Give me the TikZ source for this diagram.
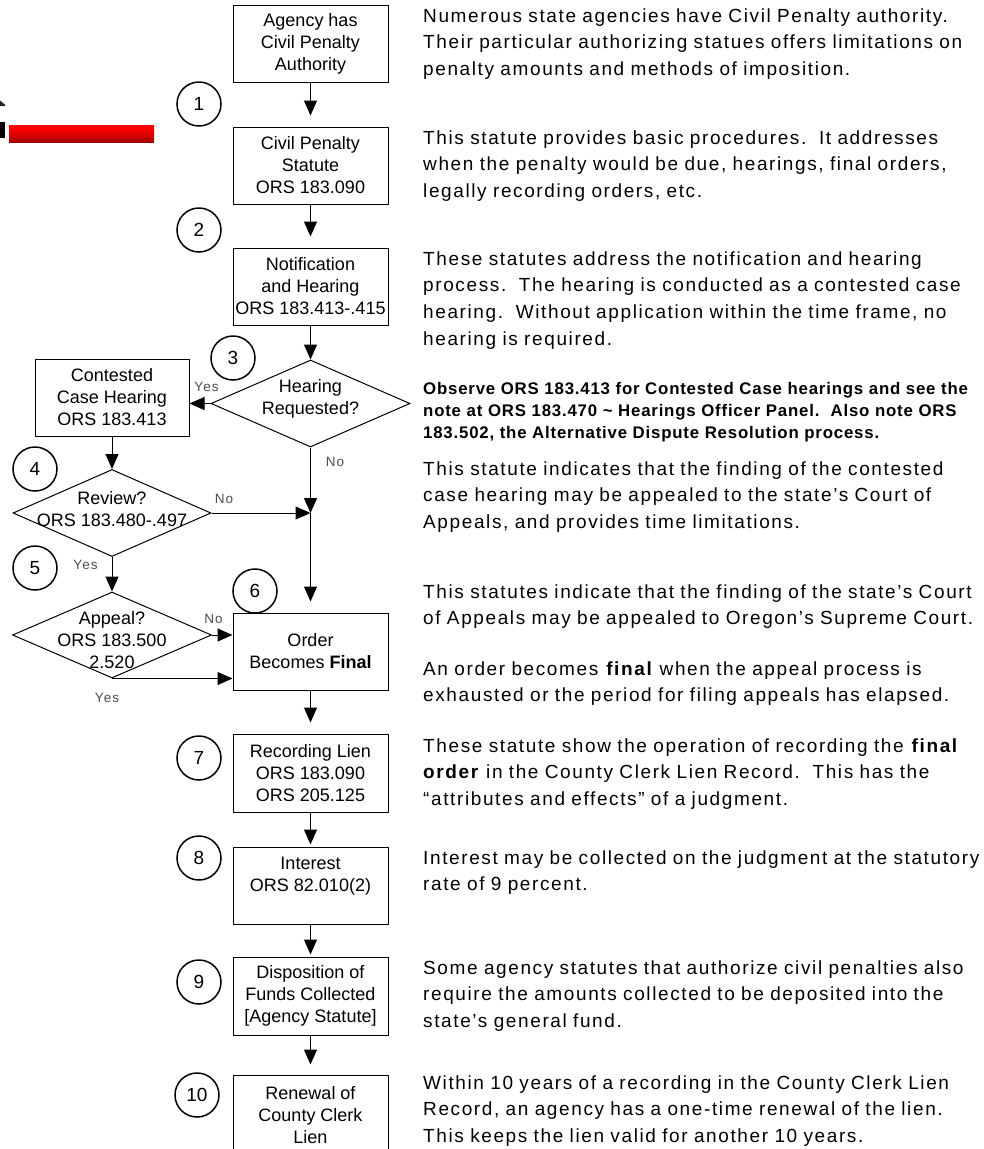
\documentclass[tikz,border=0pt]{standalone}
\usepackage{fontspec}
\setmainfont{Liberation Sans}
\newfontfamily\bodyf{Liberation Sans}[LetterSpace=8.5]
\newfontfamily\boldf{Liberation Sans Bold}[LetterSpace=4.8]
\newfontfamily\labf{Liberation Sans}[LetterSpace=8]
\usetikzlibrary{arrows.meta,shapes.geometric,calc}
\pgfdeclareverticalshading{redbar}{100bp}{color(0bp)=(red!30!black); color(35bp)=(red!75!black); color(65bp)=(red); color(92bp)=(red); color(100bp)=(red!65!black)}
\begin{document}
\begin{tikzpicture}[x=1pt,y=-1pt,
  box/.style={draw, line width=1pt, minimum width=155pt, minimum height=77pt, inner sep=0pt, align=center, font=\fontsize{18}{22}\selectfont},
  dia/.style={draw, diamond, line width=1pt, inner sep=0pt},
  dtxt/.style={align=center, inner sep=0pt, font=\fontsize{18}{22}\selectfont},
  num/.style={draw, circle, line width=1.5pt, minimum size=44pt, inner sep=0pt, font=\fontsize{19}{19}\selectfont},
  para/.style={anchor=base west, inner sep=0pt, text width=600pt, align=left, font=\bodyf\fontsize{19}{26.8}\selectfont},
  bpara/.style={anchor=base west, inner sep=0pt, text width=600pt, align=left, font=\boldf\fontsize{16.8}{22.4}\selectfont},
  lab/.style={inner sep=0pt, text=black!70, font=\labf\fontsize{13.5}{13.5}\selectfont},
  arr/.style={-{Triangle[length=15pt,width=13pt]}, line width=1pt},
]
\useasboundingbox (0,0) rectangle (983,1149);
\clip (0,0) rectangle (983,1149);

% left decoration
\shade[shading=redbar] (9,125) rectangle (154,142);
\fill[black] (0,122) rectangle (5,138);
\fill[black!85] (0,100.5) -- (5,104.5) -- (5,106) -- (0,106) -- cycle;

% boxes
\node[box] (b1) at (310.5,44) {Agency has\\Civil Penalty\\Authority};
\node[box] (b2) at (310.5,165.5) {Civil Penalty\\Statute\\ORS 183.090};
\node[box] (b3) at (310.5,286.5) {Notification\\and Hearing\\ORS 183.413-.415};
\node[dia, minimum width=199pt, minimum height=87pt] (d3) at (310.5,403.5) {};
\node[dtxt] (d3t) at (310.5,399) {Hearing\\Requested?};
\node[box, minimum width=154pt] (cc) at (112,397.5) {Contested\\Case Hearing\\ORS 183.413};
\node[dia, minimum width=198pt, minimum height=87pt] (d4) at (112,513) {};
\node[dtxt] (d4t) at (112,509) {Review?\\ORS 183.480-.497};
\node[dia, minimum width=199pt, minimum height=86pt] (d5) at (112,635) {};
\node[dtxt] (d5t) at (112,640) {Appeal?\\ORS 183.500\\2.520};
\coordinate (j) at (310.5,513);
\node[box] (b6) at (310.5,651.5) {Order\\Becomes \textbf{Final}};
\node[box, minimum height=78pt] (b7) at (310.5,773) {Recording Lien\\ORS 183.090\\ORS 205.125};
\node[box] (b8) at (310.5,885.5) {Interest\\ORS 82.010(2)\\~};
\node[box, minimum height=78pt] (b9) at (310.5,996) {Disposition of\\Funds Collected\\{[}Agency Statute{]}};
\node[box, minimum height=80pt] (b10) at (310.5,1115) {Renewal of\\County Clerk\\Lien};

% numbered circles
\node[num] (n1) at (199,104) {1};
\node[num] (n2) at (199,230) {2};
\node[num] (n3) at (233,358) {3};
\node[num] (n4) at (35,469) {4};
\node[num] (n5) at (35,568) {5};
\node[num] (n6) at (255,591) {6};
\node[num] (n7) at (199,758) {7};
\node[num] (n8) at (199,858) {8};
\node[num] (n9) at (199,982) {9};
\node[num] (n10) at (197,1095) {10};

% connectors
\draw[arr, shorten >=11pt] (b1) -- (b2);
\draw[arr, shorten >=11pt] (b2) -- (b3);
\draw[arr] (b3) -- (d3);
\draw[arr] (d3.west) -- (d3.west -| cc.east);
\draw[arr] (d3.south) -- (j);
\draw[arr] (d4.east) -- (j);
\draw[arr, shorten >=11pt] (j) -- (b6.north);
\draw[arr] (cc) -- (d4);
\draw[arr] (d4) -- (d5);
\draw[arr] (d5.east) -- (d5.east -| b6.west);
\draw[arr] (d5.south) -- (d5.south -| b6.west);
\draw[arr, shorten >=11pt] (b6) -- (b7);
\draw[arr, shorten >=2pt] (b7) -- (b8);
\draw[arr, shorten >=2pt] (b8) -- (b9);
\draw[arr, shorten >=10pt] (b9) -- (b10);

% branch labels
\node[lab] (l1) at (206.5,387) {Yes};
\node[lab] (l2) at (335,462) {No};
\node[lab] (l3) at (224,499) {No};
\node[lab] (l4) at (85.5,564.5) {Yes};
\node[lab] (l5) at (213.5,619) {No};
\node[lab] (l6) at (107,697.5) {Yes};

% explanatory text
\node[para] (p1) at (423,22) {Numerous state agencies have Civil Penalty authority.\\Their particular authorizing statues offers limitations on\\penalty amounts and methods of imposition.};
\node[para] (p2) at (423,144) {This statute provides basic procedures.\ \ It addresses\\when the penalty would be due, hearings, final orders,\\legally recording orders, etc.};
\node[para] (p3) at (423,265) {These statutes address the notification and hearing\\process.\ \ The hearing is conducted as a contested case\\hearing.\ \ Without application within the time frame, no\\hearing is required.};
\node[bpara] (p4) at (423,394) {Observe ORS 183.413 for Contested Case hearings and see the\\note at ORS 183.470 \textasciitilde{} Hearings Officer Panel.\ \ Also note ORS\\183.502, the Alternative Dispute Resolution process.};
\node[para] (p5) at (423,475) {This statute indicates that the finding of the contested\\case hearing may be appealed to the state’s Court of\\Appeals, and provides time limitations.};
\node[para] (p6) at (423,598) {This statutes indicate that the finding of the state’s Court\\of Appeals may be appealed to Oregon’s Supreme Court.};
\node[para] (p7) at (423,675) {An order becomes \textbf{final} when the appeal process is\\exhausted or the period for filing appeals has elapsed.};
\node[para] (p8) at (423,752) {These statute show the operation of recording the \textbf{final}\\\textbf{order} in the County Clerk Lien Record.\ \ This has the\\“attributes and effects” of a judgment.};
\node[para] (p9) at (423,864) {Interest may be collected on the judgment at the statutory\\rate of 9 percent.};
\node[para] (p10) at (423,974) {Some agency statutes that authorize civil penalties also\\require the amounts collected to be deposited into the\\state’s general fund.};
\node[para] (p11) at (423,1089) {Within 10 years of a recording in the County Clerk Lien\\Record, an agency has a one-time renewal of the lien.\\This keeps the lien valid for another 10 years.};
\end{tikzpicture}
\end{document}
